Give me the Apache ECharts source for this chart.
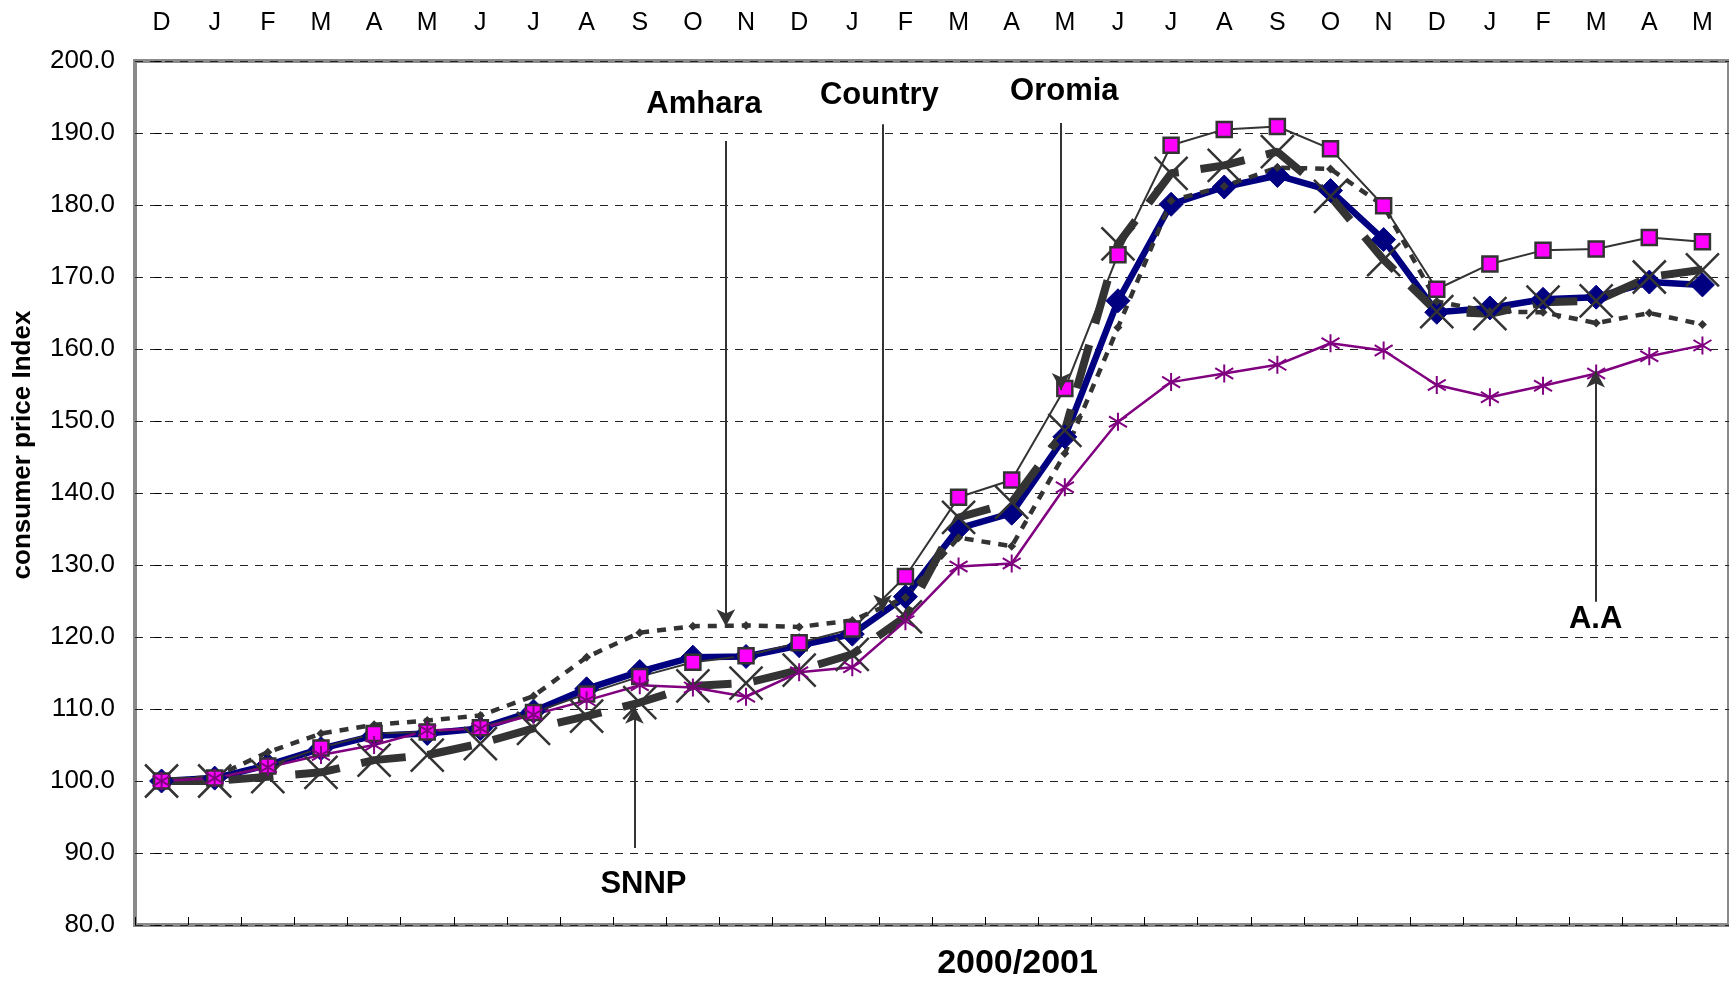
<!DOCTYPE html>
<html>
<head>
<meta charset="utf-8">
<script src="https://cdn.jsdelivr.net/npm/echarts@6/dist/echarts.min.js"></script>
<style>
html,body{margin:0;padding:0;background:#fff;}
#chart{width:1729px;height:986px;}
</style>
</head>
<body>
<div id="chart"></div>
<script>
var categories = ['D','J','F','M','A','M','J','J','A','S','O','N','D','J','F','M','A','M','J','J','A','S','O','N','D','J','F','M','A','M'];

var country = [100.0, 100.4, 102.2, 104.5, 106.3, 106.6, 107.3, 109.7, 112.8, 115.2, 117.2, 117.3, 118.8, 120.4, 125.6, 135.1, 137.2, 147.8, 166.7, 180.1, 182.5, 184.1, 182.0, 175.2, 165.1, 165.7, 166.9, 167.2, 169.3, 168.9];
var addisAbaba = [100.0, 100.4, 102.1, 104.6, 106.6, 106.8, 107.4, 109.5, 112.1, 114.5, 116.5, 117.4, 119.2, 121.1, 128.4, 139.4, 141.8, 154.5, 173.1, 188.3, 190.5, 190.9, 187.8, 179.9, 168.3, 171.8, 173.7, 173.9, 175.5, 174.9];
var amhara = [100.0, 100.6, 104.0, 106.6, 107.8, 108.4, 109.1, 111.8, 117.2, 120.6, 121.5, 121.6, 121.4, 122.3, 125.5, 133.8, 132.6, 145.5, 163.0, 180.6, 182.6, 185.2, 185.0, 179.9, 166.6, 165.2, 165.1, 163.6, 165.0, 163.4];
var oromia = [100.0, 100.0, 100.6, 101.2, 102.9, 103.6, 105.2, 107.3, 109.0, 110.9, 113.2, 113.6, 115.4, 117.6, 122.8, 136.6, 138.7, 148.7, 174.6, 184.4, 185.5, 187.4, 181.2, 172.4, 165.2, 164.9, 166.5, 166.7, 170.0, 171.0];
var snnp = [100.0, 100.4, 101.9, 103.6, 105.0, 107.0, 107.3, 109.2, 111.2, 113.3, 113.0, 111.7, 115.1, 115.8, 122.2, 129.8, 130.2, 140.8, 149.9, 155.4, 156.6, 157.8, 160.8, 159.8, 155.0, 153.3, 154.9, 156.6, 159.0, 160.5];

var yTicks = {min: 80, max: 200, interval: 10};

// annotation labels: [text, category position, value]
var annotLabels = [
  ['Amhara', 10.21, 193.9],
  ['Country', 13.51, 195.2],
  ['Oromia', 16.99, 195.8],
  ['SNNP', 9.07, 85.7],
  ['A.A', 26.99, 122.4]
];
// annotation arrows: [category position, value at tail, value at head]
var annotArrows = [
  [10.62, 188.9, 121.5],
  [13.57, 191.2, 123.5],
  [16.93, 191.4, 154.3],
  [8.90, 90.7, 110.3],
  [26.99, 124.9, 157.0]
];

var FONT = '"Liberation Sans", Arial, sans-serif';
var X_PATH = 'path://M0,0L10,10M10,0L0,10';
var STAR_PATH = 'path://M5,0L5,10M0.7,2L9.3,8M9.3,2L0.7,8';

var chart = echarts.init(document.getElementById('chart'), null, {renderer: 'canvas'});

var option = {
  animation: false,
  backgroundColor: '#ffffff',
  grid: {
    left: 135, top: 61, width: 1599, height: 869,
    show: true, borderColor: '#8a8a8a', borderWidth: 4, backgroundColor: '#ffffff'
  },
  xAxis: [
    {
      type: 'category', data: categories, position: 'top', boundaryGap: true,
      axisLine: {show: false}, axisTick: {show: false},
      axisLabel: {fontSize: 25, color: '#000', fontFamily: FONT, margin: 25, interval: 0},
      splitLine: {show: false}
    },
    {
      type: 'category', data: categories, position: 'bottom', boundaryGap: true,
      axisLine: {show: false},
      axisTick: {show: true, inside: true, length: 8, interval: 0, lineStyle: {color: '#000', width: 1}},
      axisLabel: {show: false},
      name: '2000/2001', nameLocation: 'middle', nameGap: 22,
      nameTextStyle: {fontSize: 34, fontWeight: 'bold', color: '#000', fontFamily: FONT, padding: [0, 0, 0, 171]}
    },
    {
      type: 'value', min: -0.5, max: 29.5, show: false
    }
  ],
  yAxis: {
    type: 'value', min: yTicks.min, max: yTicks.max, interval: yTicks.interval,
    axisLine: {show: false},
    axisTick: {show: true, inside: false, length: 7, lineStyle: {color: '#000', width: 1}},
    axisLabel: {fontSize: 26, color: '#000', fontFamily: FONT, margin: 20,
      formatter: function (v) { return v.toFixed(1); }},
    splitLine: {show: true, lineStyle: {color: '#222', width: 1, type: [8, 7]}},
    name: 'consumer price Index', nameLocation: 'middle', nameGap: 99, nameRotate: 90,
    nameTextStyle: {fontSize: 26, fontWeight: 'bold', color: '#000', fontFamily: FONT, padding: [0, 0, 0, 96]}
  },
  series: [
    {
      name: 'Country', type: 'line', xAxisIndex: 0, data: country,
      symbol: 'diamond', symbolSize: 24,
      lineStyle: {color: '#000080', width: 6.5},
      itemStyle: {color: '#000080', borderColor: '#000080'}
    },
    {
      name: 'Amhara', type: 'line', xAxisIndex: 0, data: amhara,
      symbol: 'diamond', symbolSize: 9,
      lineStyle: {color: '#333333', width: 4.5, type: [9, 8], cap: 'butt'},
      itemStyle: {color: '#333333'}
    },
    {
      name: 'Oromia', type: 'line', xAxisIndex: 0, data: oromia,
      symbol: X_PATH, symbolSize: 33,
      lineStyle: {color: '#333333', width: 8, type: [45, 22], cap: 'butt'},
      itemStyle: {color: 'none', borderColor: '#333333', borderWidth: 2.5}
    },
    {
      name: 'A.A', type: 'line', xAxisIndex: 0, data: addisAbaba,
      symbol: 'rect', symbolSize: 15,
      lineStyle: {color: '#333333', width: 2},
      itemStyle: {color: '#ff00ff', borderColor: '#333333', borderWidth: 2.5}
    },
    {
      name: 'SNNP', type: 'line', xAxisIndex: 0, data: snnp,
      symbol: STAR_PATH, symbolSize: 18,
      lineStyle: {color: '#800080', width: 2.5},
      itemStyle: {color: 'none', borderColor: '#800080', borderWidth: 2}
    },
    {
      name: 'annotations', type: 'line', xAxisIndex: 2, data: [],
      silent: true,
      markLine: {
        silent: true,
        symbol: ['none', 'arrow'], symbolSize: [14, 17],
        lineStyle: {color: '#333333', width: 2, type: 'solid'},
        label: {show: false},
        data: annotArrows.map(function (a) {
          return [{coord: [a[0], a[1]]}, {coord: [a[0], a[2]]}];
        })
      },
      markPoint: {
        silent: true,
        symbol: 'rect', symbolSize: 1,
        itemStyle: {color: 'rgba(0,0,0,0)'},
        label: {show: true, position: 'inside', fontSize: 31, fontWeight: 'bold', color: '#000', fontFamily: FONT,
          formatter: function (p) { return p.name; }},
        data: annotLabels.map(function (l) {
          return {name: l[0], coord: [l[1], l[2]]};
        })
      }
    }
  ]
};
chart.setOption(option);
</script>
</body>
</html>
